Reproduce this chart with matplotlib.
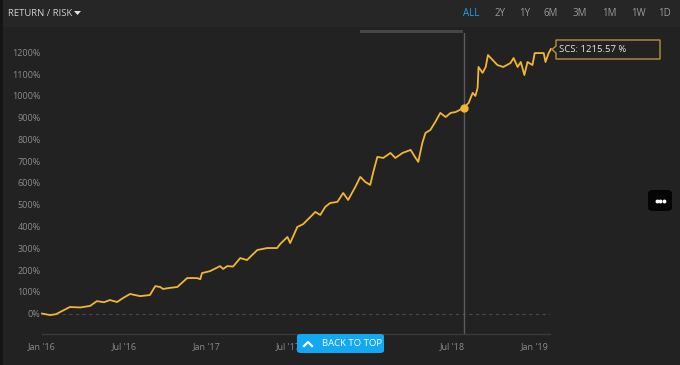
import pandas as pd
import matplotlib
matplotlib.use('Agg')
import matplotlib.pyplot as plt
from matplotlib.patches import Rectangle, FancyBboxPatch, Polygon
from matplotlib.lines import Line2D

# cumulative return of SCS (%)
dates = ["2016-01-01", "2016-01-19", "2016-02-01", "2016-02-15", "2016-03-03", "2016-03-26",
         "2016-04-17", "2016-05-02", "2016-05-18", "2016-05-31", "2016-06-16", "2016-06-29",
         "2016-07-15", "2016-08-06", "2016-08-28", "2016-09-09", "2016-09-20", "2016-09-26",
         "2016-10-12", "2016-10-28", "2016-11-19", "2016-12-11", "2016-12-18", "2016-12-22",
         "2017-01-09", "2017-01-31", "2017-02-07", "2017-02-16", "2017-03-01", "2017-03-17",
         "2017-04-01", "2017-04-24", "2017-05-16", "2017-06-07", "2017-06-14", "2017-06-30",
         "2017-07-06", "2017-07-22", "2017-08-04", "2017-08-20", "2017-08-31", "2017-09-11",
         "2017-09-22", "2017-10-03", "2017-10-19", "2017-11-01", "2017-11-12", "2017-11-28",
         "2017-12-09", "2017-12-20", "2017-12-31", "2018-01-07", "2018-01-16", "2018-01-29",
         "2018-02-14", "2018-02-25", "2018-03-13", "2018-03-31", "2018-04-11", "2018-04-17",
         "2018-04-26", "2018-05-03", "2018-05-14", "2018-05-25", "2018-06-05", "2018-06-17",
         "2018-06-28", "2018-07-09", "2018-07-27", "2018-08-07", "2018-08-16", "2018-08-22",
         "2018-08-27", "2018-08-29", "2018-09-07", "2018-09-14", "2018-09-19", "2018-10-10",
         "2018-10-23", "2018-11-08", "2018-11-15", "2018-11-24", "2018-12-01", "2018-12-09",
         "2018-12-16", "2018-12-27", "2019-01-01", "2019-01-21", "2019-01-25", "2019-02-01",
         "2019-02-06"]
returns = [0, -7, -3, 12, 30, 28,
           35, 57, 52, 62, 53, 71,
           90, 80, 85, 126, 122, 113,
           118, 122, 163, 163, 158, 186,
           195, 218, 205, 218, 216, 255,
           246, 292, 301, 301, 320, 352,
           324, 398, 411, 444, 467, 453,
           490, 508, 513, 554, 522, 582,
           628, 605, 591, 651, 720, 715,
           738, 715, 738, 752, 715, 697,
           784, 830, 844, 881, 922, 903,
           922, 926, 945, 968, 1014, 1000,
           1037, 1133, 1106, 1133, 1188, 1142,
           1133, 1151, 1174, 1133, 1156, 1096,
           1156, 1142, 1197, 1197, 1156, 1197,
           1215.57]

tick_dates = ["2016-01-01", "2016-07-01", "2017-01-01", "2017-07-01",
              "2018-01-01", "2018-07-01", "2019-01-01"]
tick_labels = ["Jan '16", "Jul '16", "Jan '17", "Jul '17", "Jan '18", "Jul '18", "Jan '19"]
y_ticks = list(range(0, 1300, 100))
ranges = ["ALL", "2Y", "1Y", "6M", "3M", "1M", "1W", "1D"]
hover_date = "2018-07-27"
hover_value = 945

plt.rcParams['font.family'] = ['Open Sans', 'DejaVu Sans']

W, H = 680, 365
bg = '#222222'
gold = '#f4b632'
grey_txt = '#8c8c8c'


def fx(x):
    return x / W


def fy(y):
    return 1 - y / H


fig = plt.figure(figsize=(6.8, 3.65), dpi=100)
fig.patch.set_facecolor(bg)

# header band and left border
fig.patches.append(Rectangle((0, fy(27)), 1, 27 / H, transform=fig.transFigure,
                             facecolor='#262626', edgecolor='none', zorder=0))
fig.patches.append(Rectangle((0, 0), 3 / W, 1, transform=fig.transFigure,
                             facecolor='#141414', edgecolor='none', zorder=0))

ax = fig.add_axes([fx(42), fy(334), fx(550) - fx(42), fy(30) - fy(334)])
ax.set_facecolor(bg)
ax.patch.set_alpha(0)

x = pd.to_datetime(dates)
ax.plot(x, returns, color=gold, lw=1.3, zorder=3, clip_on=False)

ax.set_xlim(pd.Timestamp("2016-01-01"), pd.Timestamp("2019-02-04"))
ax.set_ylim(-94, 1303)

ax.axhline(0, color='#4a4a4a', lw=0.8, ls=(0, (3, 3)), zorder=1)

# crosshair and hover point
hx = pd.Timestamp(hover_date)
ax.plot([hx, hx], [-94, 1290], color='#5c5c5c', lw=1.0, zorder=2)
ax.plot([hx], [hover_value], 'o', color=gold, ms=5, zorder=4)

ax.set_xticks(pd.to_datetime(tick_dates))
ax.set_xticklabels(tick_labels)
ax.set_yticks(y_ticks)
ax.set_yticklabels([f"{v}%" for v in y_ticks])
ax.tick_params(axis='both', length=0, colors=grey_txt, labelsize=6.5)
ax.tick_params(axis='x', pad=6)
ax.tick_params(axis='y', pad=1)
for s in ['top', 'right', 'left']:
    ax.spines[s].set_visible(False)
ax.spines['bottom'].set_color('#3a3a3a')
ax.spines['bottom'].set_linewidth(1.0)

# navigator bar at top
fig.patches.append(Rectangle((fx(360), fy(33)), (463 - 360) / W, 3 / H,
                             transform=fig.transFigure, facecolor='#464646',
                             edgecolor='none', zorder=1))

# tooltip
tip = Polygon([(fx(556), fy(40)), (fx(660), fy(40)), (fx(660), fy(59)), (fx(556), fy(59)),
               (fx(556), fy(53)), (fx(552), fy(49.5)), (fx(556), fy(46))],
              closed=True, transform=fig.transFigure, facecolor=bg,
              edgecolor='#b8923a', lw=1.0, zorder=2)
fig.patches.append(tip)
fig.text(fx(559), fy(49.5), f"SCS: {returns[-1]:.2f} %", color='#e6e6e6',
         fontsize=6.8, va='center', ha='left')

# header
fig.text(fx(8), fy(13), "RETURN / RISK", color='#d0d0d0', fontsize=6.8, va='center')
fig.patches.append(Polygon([(fx(74), fy(11)), (fx(81), fy(11)), (fx(77.5), fy(15))],
                           closed=True, transform=fig.transFigure,
                           facecolor='#e0e0e0', edgecolor='none', zorder=2))
range_x = [471, 500, 525, 551, 580, 609, 638, 665]
for lbl, px in zip(ranges, range_x):
    fig.text(fx(px), fy(13), lbl, color='#1fa3e6' if lbl == 'ALL' else '#9a9a9a',
             fontsize=7, ha='center', va='center')

# "..." button
fig.patches.append(FancyBboxPatch((fx(648), fy(211)), 24 / W, 21 / H,
                                  boxstyle='round,pad=0,rounding_size=0.008',
                                  transform=fig.transFigure, facecolor='#050505',
                                  edgecolor='none', zorder=2))
for dx in (-3.5, 0, 3.5):
    fig.lines.append(Line2D([fx(660 + dx)], [fy(200.5)], marker='o', ms=1.8,
                            color='white', transform=fig.transFigure, zorder=3))

# back to top button (covers part of the "Jul '17" label, as in the original)
fig.patches.append(FancyBboxPatch((fx(297), fy(353)), 87 / W, 19 / H,
                                  boxstyle='round,pad=0,rounding_size=0.006',
                                  transform=fig.transFigure, facecolor='#12a9f2',
                                  edgecolor='none', zorder=2))
fig.lines.append(Line2D([fx(304), fx(308), fx(312)], [fy(346), fy(342), fy(346)],
                        color='white', lw=1.6, transform=fig.transFigure, zorder=3))
fig.text(fx(322), fy(343.5), "BACK TO TOP", color='white', fontsize=6.8,
         ha='left', va='center', zorder=3)

fig.savefig('out.png', dpi=100, facecolor=bg)
